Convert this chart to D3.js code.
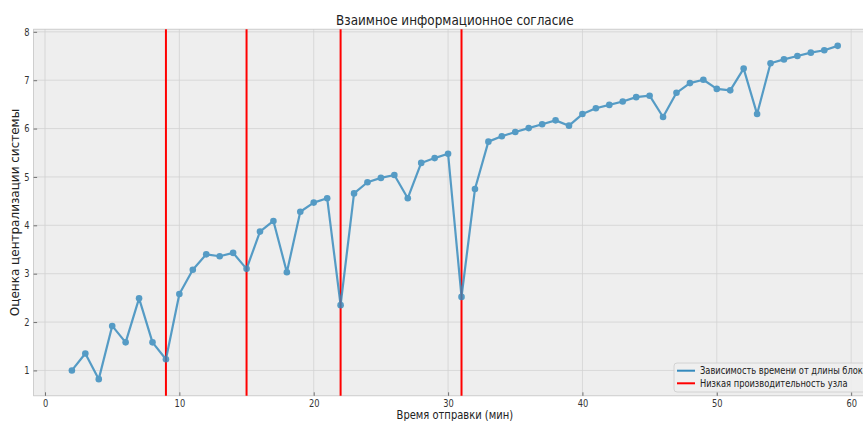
<!DOCTYPE html>
<html>
<head>
<meta charset="utf-8">
<script src="https://cdn.jsdelivr.net/npm/d3@7/dist/d3.min.js"></script>
<style>
  body { margin: 0; background: #ffffff; }
  svg { display: block; font-family: "DejaVu Sans", sans-serif; }
</style>
</head>
<body>
<svg id="chart" width="863" height="421"></svg>
<script>
// Send time, minutes
const minutes = [2, 3, 4, 5, 6, 7, 8, 9, 10, 11, 12, 13, 14, 15, 16, 17, 18, 19, 20,
  21, 22, 23, 24, 25, 26, 27, 28, 29, 30, 31, 32, 33, 34, 35, 36, 37, 38, 39, 40,
  41, 42, 43, 44, 45, 46, 47, 48, 49, 50, 51, 52, 53, 54, 55, 56, 57, 58, 59];

// System centralisation score
const scores = [1.00, 1.35, 0.82, 1.92, 1.58, 2.49, 1.58, 1.23, 2.58, 3.08,
  3.40, 3.36, 3.43, 3.10, 3.87, 4.09, 3.03, 4.28, 4.47, 4.56,
  2.35, 4.66, 4.89, 4.98, 5.04, 4.56, 5.29, 5.39, 5.48, 2.52,
  4.75, 5.73, 5.84, 5.93, 6.01, 6.09, 6.17, 6.06, 6.30, 6.42,
  6.49, 6.56, 6.65, 6.68, 6.24, 6.74, 6.94, 7.01, 6.82, 6.79,
  7.24, 6.30, 7.35, 7.43, 7.50, 7.57, 7.62, 7.71];

// Minutes at which a node had low throughput
const slowNodeMinutes = [9, 15, 22, 31];

const xTicks = [0, 10, 20, 30, 40, 50, 60];
const yTicks = [1, 2, 3, 4, 5, 6, 7, 8];

const titleText = "Взаимное информационное согласие";
const xLabelText = "Время отправки (мин)";
const yLabelText = "Оценка централизации системы";
const seriesName = "Зависимость времени от длины блока";
const slowNodeName = "Низкая производительность узла";

// ---- layout ----
const SX = 0.83;              // horizontal squeeze applied to text
const plot = { left: 33.6, right: 876, top: 29.2, bottom: 395.8 };
const blue = "#348ABD";
const red = "#ff0000";

const svg = d3.select("#chart");

// matplotlib-style 5% margins around the data
const xPad = (d3.max(minutes) - d3.min(minutes)) * 0.05;
const yPad = (d3.max(scores) - d3.min(scores)) * 0.05;
const x = d3.scaleLinear()
  .domain([d3.min(minutes) - xPad, d3.max(minutes) + xPad])
  .range([plot.left, plot.right]);
const y = d3.scaleLinear()
  .domain([d3.min(scores) - yPad, d3.max(scores) + yPad])
  .range([plot.bottom, plot.top]);

// plot background
svg.append("rect")
  .attr("x", plot.left).attr("y", plot.top)
  .attr("width", plot.right - plot.left).attr("height", plot.bottom - plot.top)
  .attr("fill", "#eeeeee");

// grid
const grid = svg.append("g").attr("stroke", "#d2d2d2").attr("stroke-width", 0.8);
grid.selectAll("line.v").data(xTicks).join("line").attr("class", "v")
  .attr("x1", d => x(d)).attr("x2", d => x(d))
  .attr("y1", plot.top).attr("y2", plot.bottom);
grid.selectAll("line.h").data(yTicks).join("line").attr("class", "h")
  .attr("x1", plot.left).attr("x2", plot.right)
  .attr("y1", d => y(d)).attr("y2", d => y(d));

// frame
svg.append("rect")
  .attr("x", plot.left).attr("y", plot.top)
  .attr("width", plot.right - plot.left).attr("height", plot.bottom - plot.top)
  .attr("fill", "none").attr("stroke", "#c4c4c4").attr("stroke-width", 0.8);

// axes (ticks point inward)
const xAxis = svg.append("g")
  .attr("transform", `translate(0,${plot.bottom})`)
  .call(d3.axisBottom(x).tickValues(xTicks).tickFormat(d3.format("d"))
    .tickSizeInner(-3.5).tickSizeOuter(0).tickPadding(4));
const yAxis = svg.append("g")
  .attr("transform", `translate(${plot.left},0)`)
  .call(d3.axisLeft(y).tickValues(yTicks).tickFormat(d3.format("d"))
    .tickSizeInner(-3.5).tickSizeOuter(0).tickPadding(4));
[xAxis, yAxis].forEach(a => {
  a.select(".domain").remove();
  a.selectAll(".tick line").attr("stroke", "#555").attr("stroke-width", 0.8);
  a.selectAll(".tick text")
    .attr("fill", "#333").attr("font-size", 10)
    .attr("font-family", "DejaVu Sans, sans-serif");
});
xAxis.selectAll(".tick text").attr("transform", `scale(${SX},1)`);
yAxis.selectAll(".tick text").each(function () {
  const t = d3.select(this);
  const tx = +t.attr("x");
  t.attr("x", 0).attr("transform", `translate(${tx},0) scale(${SX},1)`);
});

// low-throughput markers
svg.append("g").selectAll("line").data(slowNodeMinutes).join("line")
  .attr("x1", d => x(d)).attr("x2", d => x(d))
  .attr("y1", plot.top).attr("y2", plot.bottom)
  .attr("stroke", red).attr("stroke-width", 2);

// series
const series = svg.append("g").attr("opacity", 0.82);
const pts = minutes.map((m, i) => [m, scores[i]]);
series.append("path")
  .datum(pts)
  .attr("fill", "none").attr("stroke", blue).attr("stroke-width", 2.2)
  .attr("stroke-linejoin", "round")
  .attr("d", d3.line().x(d => x(d[0])).y(d => y(d[1])));
series.selectAll("circle").data(pts).join("circle")
  .attr("cx", d => x(d[0])).attr("cy", d => y(d[1]))
  .attr("r", 3.3).attr("fill", blue);

// squeezed horizontal text helper
function label(txt, px, py, size, anchor) {
  return svg.append("text")
    .attr("transform", `translate(${px},${py}) scale(${SX},1)`)
    .attr("text-anchor", anchor).attr("font-size", size).attr("fill", "#222")
    .text(txt);
}

label(titleText, (plot.left + plot.right) / 2, 25, 14.5, "middle");
label(xLabelText, (plot.left + plot.right) / 2, 419, 12, "middle");
svg.append("text")
  .attr("transform", `translate(19,${(plot.top + plot.bottom) / 2}) rotate(-90)`)
  .attr("text-anchor", "middle").attr("font-size", 12).attr("fill", "#222")
  .text(yLabelText);

// legend
const lg = { left: 674, top: 363, width: 206, height: 29 };
svg.append("rect")
  .attr("x", lg.left).attr("y", lg.top).attr("width", lg.width).attr("height", lg.height)
  .attr("rx", 3).attr("fill", "#eeeeee").attr("fill-opacity", 0.85)
  .attr("stroke", "#cccccc").attr("stroke-width", 0.8);
const legendItems = [
  { name: seriesName, color: blue },
  { name: slowNodeName, color: red }
];
legendItems.forEach((it, i) => {
  const cy = lg.top + 7.7 + i * 12.6;
  svg.append("line")
    .attr("x1", lg.left + 3).attr("x2", lg.left + 21)
    .attr("y1", cy).attr("y2", cy)
    .attr("stroke", it.color).attr("stroke-width", 2);
  label(it.name, lg.left + 26, cy + 3.5, 10, "start");
});
</script>
</body>
</html>
